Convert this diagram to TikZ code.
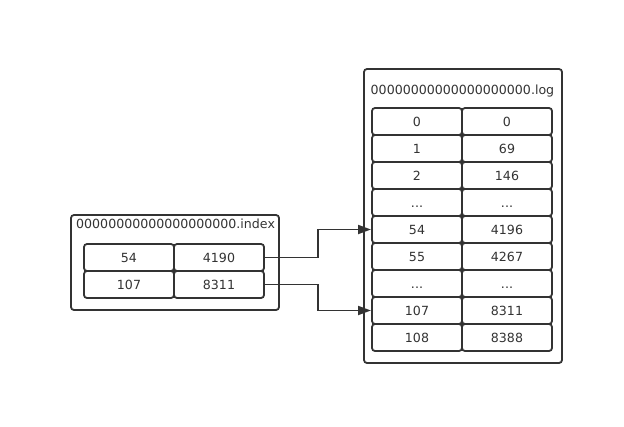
\documentclass[tikz,border=0pt]{standalone}
\usepackage{fontspec}
\setmainfont{DejaVu Sans}
\usetikzlibrary{arrows.meta}
\definecolor{ink}{HTML}{333333}
\newcommand\mydots{...}
\begin{document}
\begin{tikzpicture}[x=1pt,y=-1pt,
  every node/.style={font=\fontsize{12.6}{14}\selectfont, text=ink},
  outer/.style={draw=ink, line width=1.8pt, rounded corners=3pt},
  cell/.style={draw=ink, line width=1.8pt, rounded corners=3pt, minimum width=90pt, minimum height=27pt, inner sep=0pt, outer sep=0pt, text height=9.2pt, text depth=0pt, anchor=north west},
  conn/.style={draw=ink, line width=1.9pt, -{Triangle[length=13pt,width=9pt]}}]
\useasboundingbox (0,0) rectangle (624,426);
% index file
\draw[outer] (71,215) rectangle (279,310);
\node[anchor=west, inner sep=0pt] (ititle) at (76,223.5) {00000000000000000000.index};
\node[cell] (i1a) at (84,244) {54};
\node[cell] (i1b) at (174,244) {4190};
\node[cell] (i2a) at (84,271) {107};
\node[cell] (i2b) at (174,271) {8311};
% log file
\draw[outer] (364,69) rectangle (562,363);
\node[inner sep=0pt] (ltitle) at (462.5,91.5) {00000000000000000000.log};
\foreach \i/\a/\b in {0/0/0,1/1/69,2/2/146,3/\mydots/\mydots,4/54/4196,5/55/4267,6/\mydots/\mydots,7/107/8311,8/108/8388}{
  \node[cell] (la\i) at (372,108+27*\i) {\a};
  \node[cell] (lb\i) at (462,108+27*\i) {\b};
}
\coordinate (k1) at (318,0);
\draw[conn] (i1b.east) -| (k1 |- la4.west) -- ([xshift=-1pt]la4.west);
\draw[conn] (i2b.east) -| (k1 |- la7.west) -- ([xshift=-1pt]la7.west);
\end{tikzpicture}
\end{document}
